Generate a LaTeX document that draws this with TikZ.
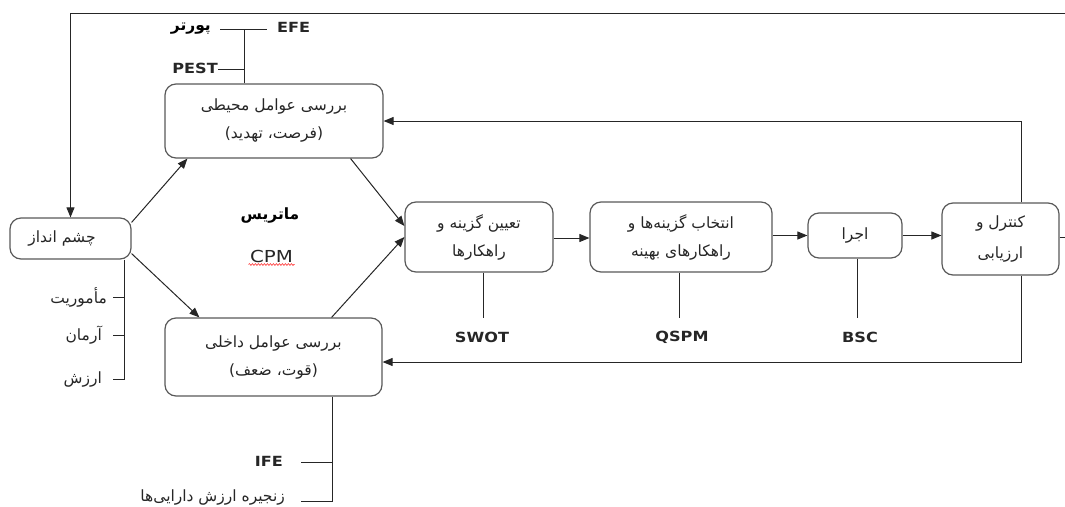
\documentclass[tikz,border=0pt]{standalone}
\usepackage{fontspec}
\setmainfont{DejaVu Sans}
\newfontfamily\fa[Script=Arabic]{DejaVu Sans}
\newfontfamily\lat[FakeStretch=1.15]{DejaVu Sans}
\newfontfamily\latr[FakeStretch=1.2]{DejaVu Sans}
\TeXXeTstate=1
\usetikzlibrary{arrows.meta,decorations.pathmorphing}
\newcommand{\fat}[1]{\beginR#1\endR}
\begin{document}
\begin{tikzpicture}[x=1pt,y=-1pt,
  box/.style={draw=black!65, line width=1.2pt, rounded corners=11pt, fill=white, inner sep=0pt, align=center, font=\fa\fontsize{15.5}{28}\selectfont, text=black!85},
  ln/.style={draw=black!85, line width=1pt},
  arr/.style={ln, -{Triangle[length=10pt,width=8pt]}},
  lab/.style={font=\lat\bfseries\fontsize{14}{15}\selectfont, inner sep=0pt, text=black!85},
  falab/.style={font=\fa\fontsize{15.5}{16}\selectfont, inner sep=0pt, text=black!85},
  fabold/.style={font=\fa\bfseries\fontsize{15.5}{16}\selectfont, inner sep=0pt}]
\useasboundingbox (0,0) rectangle (1065,506);

% boxes
\node[box, minimum width=121pt, minimum height=41pt] (vision) at (70.5,238.5) {};
\node[falab] (visiont) at (62,238.5) {\fat{چشم انداز}};
\node[box, minimum width=218pt, minimum height=74pt] (env) at (274,121) {\fat{بررسی عوامل محیطی}\\\fat{(فرصت، تهدید)}};
\node[box, minimum width=217pt, minimum height=78pt] (internal) at (273.5,357) {\fat{بررسی عوامل داخلی}\\\fat{(قوت، ضعف)}};
\node[box, minimum width=148pt, minimum height=70pt] (option) at (479,237) {\fat{تعیین گزینه و}\\\fat{راهکارها}};
\node[box, minimum width=182pt, minimum height=70pt] (select) at (681,237) {\fat{انتخاب گزینه‌ها و}\\\fat{راهکارهای بهینه}};
\node[box, minimum width=94pt, minimum height=45pt] (exec) at (855,235.5) {\fat{اجرا}};
\node[box, minimum width=117pt, minimum height=72pt] (control) at (1000.5,239) {\fat{کنترل و}\\[3pt]\fat{ارزیابی}};

% center texts
\node[fabold] (matrix) at (270,216) {\fat{ماتریس}};
\node[font=\latr\fontsize{16.5}{17}\selectfont, inner sep=0pt, text=black!85] (cpm) at (271.5,256) {CPM};
\draw[red!80, line width=0.6pt, decorate, decoration={snake, amplitude=0.9pt, segment length=3pt}] ([xshift=-23pt,yshift=-8.5pt]cpm.center) -- ([xshift=23pt,yshift=-8.5pt]cpm.center);

% flow arrows
\draw[arr] ([yshift=-5pt]vision.north east) -- ([xshift=23pt]env.south west);
\draw[arr] ([yshift=6pt]vision.south east) -- ([xshift=35pt]internal.north west);
\draw[arr] ([xshift=-33pt]env.south east) -- ([yshift=11pt]option.west);
\draw[arr] ([xshift=-51pt]internal.north east) -- ([yshift=0pt]option.west);
\draw[arr] ([yshift=-1pt]option.east) -- ([yshift=-1pt]select.west);
\draw[arr] (select.east |- exec.west) -- (exec.west);
\draw[arr] (exec.east) -- (exec.east -| control.west);

% feedback loops
\draw[arr] ([xshift=20.5pt]control.north) |- (env.east);
\draw[arr] ([xshift=20.5pt]control.south) |- ([yshift=-5pt]internal.east);
\coordinate (tr) at (1065,13);
\coordinate (re) at (1065,237);
\draw[arr] (tr) -| (vision.north);
\draw[ln] (control.east |- re) -- (re);

% environment tree
\coordinate (envtop) at ([xshift=-30pt]env.north);
\coordinate (ej) at (244,29);
\coordinate (pj) at (244,69);
\coordinate (efeL) at (220,29);
\coordinate (efeR) at (267,29);
\coordinate (pestL) at (218,69);
\draw[ln] (envtop) -- (ej);
\draw[ln] (efeL) -- (efeR);
\draw[ln] (pestL) -- (pj);
\node[lab, anchor=west] (efe) at (277,27) {EFE};
\node[fabold, anchor=east] (porter) at (211,29) {\fat{پورتر}};
\node[lab, anchor=east] (pest) at (218,68) {PEST};

% vision tree
\coordinate (vbot) at (vision.south -| 124,0);
\coordinate (v3) at (124,379);
\coordinate (t1) at (113,297);
\coordinate (t2) at (113,335);
\coordinate (t3) at (113,379);
\draw[ln] (vbot) -- (v3) -- (t3);
\draw[ln] (t1) -- (t1 -| v3);
\draw[ln] (t2) -- (t2 -| v3);
\node[falab, anchor=east] (mission) at (107,297) {\fat{مأموریت}};
\node[falab, anchor=east] (aspire) at (102,335) {\fat{آرمان}};
\node[falab, anchor=east] (value) at (102,379) {\fat{ارزش}};

% internal tree
\coordinate (ib) at (332,501);
\coordinate (i1) at (301,462);
\coordinate (i2) at (301,501);
\draw[ln] (internal.south -| ib) -- (ib) -- (i2);
\draw[ln] (i1) -- (i1 -| ib);
\node[lab, anchor=east] (ife) at (283,461) {IFE};
\node[falab, anchor=east] (chain) at (285,497) {\fat{زنجیره ارزش دارایی‌ها}};

% tool lines
\coordinate (sw) at (483,318);
\coordinate (qs) at (679,318);
\coordinate (bs) at (857,318);
\draw[ln] (option.south -| sw) -- (sw);
\draw[ln] (select.south -| qs) -- (qs);
\draw[ln] (exec.south -| bs) -- (bs);
\node[lab] (swot) at (482,337) {SWOT};
\node[lab] (qspm) at (682,337) {QSPM};
\node[lab] (bsc) at (860,337) {BSC};
\end{tikzpicture}
\end{document}
